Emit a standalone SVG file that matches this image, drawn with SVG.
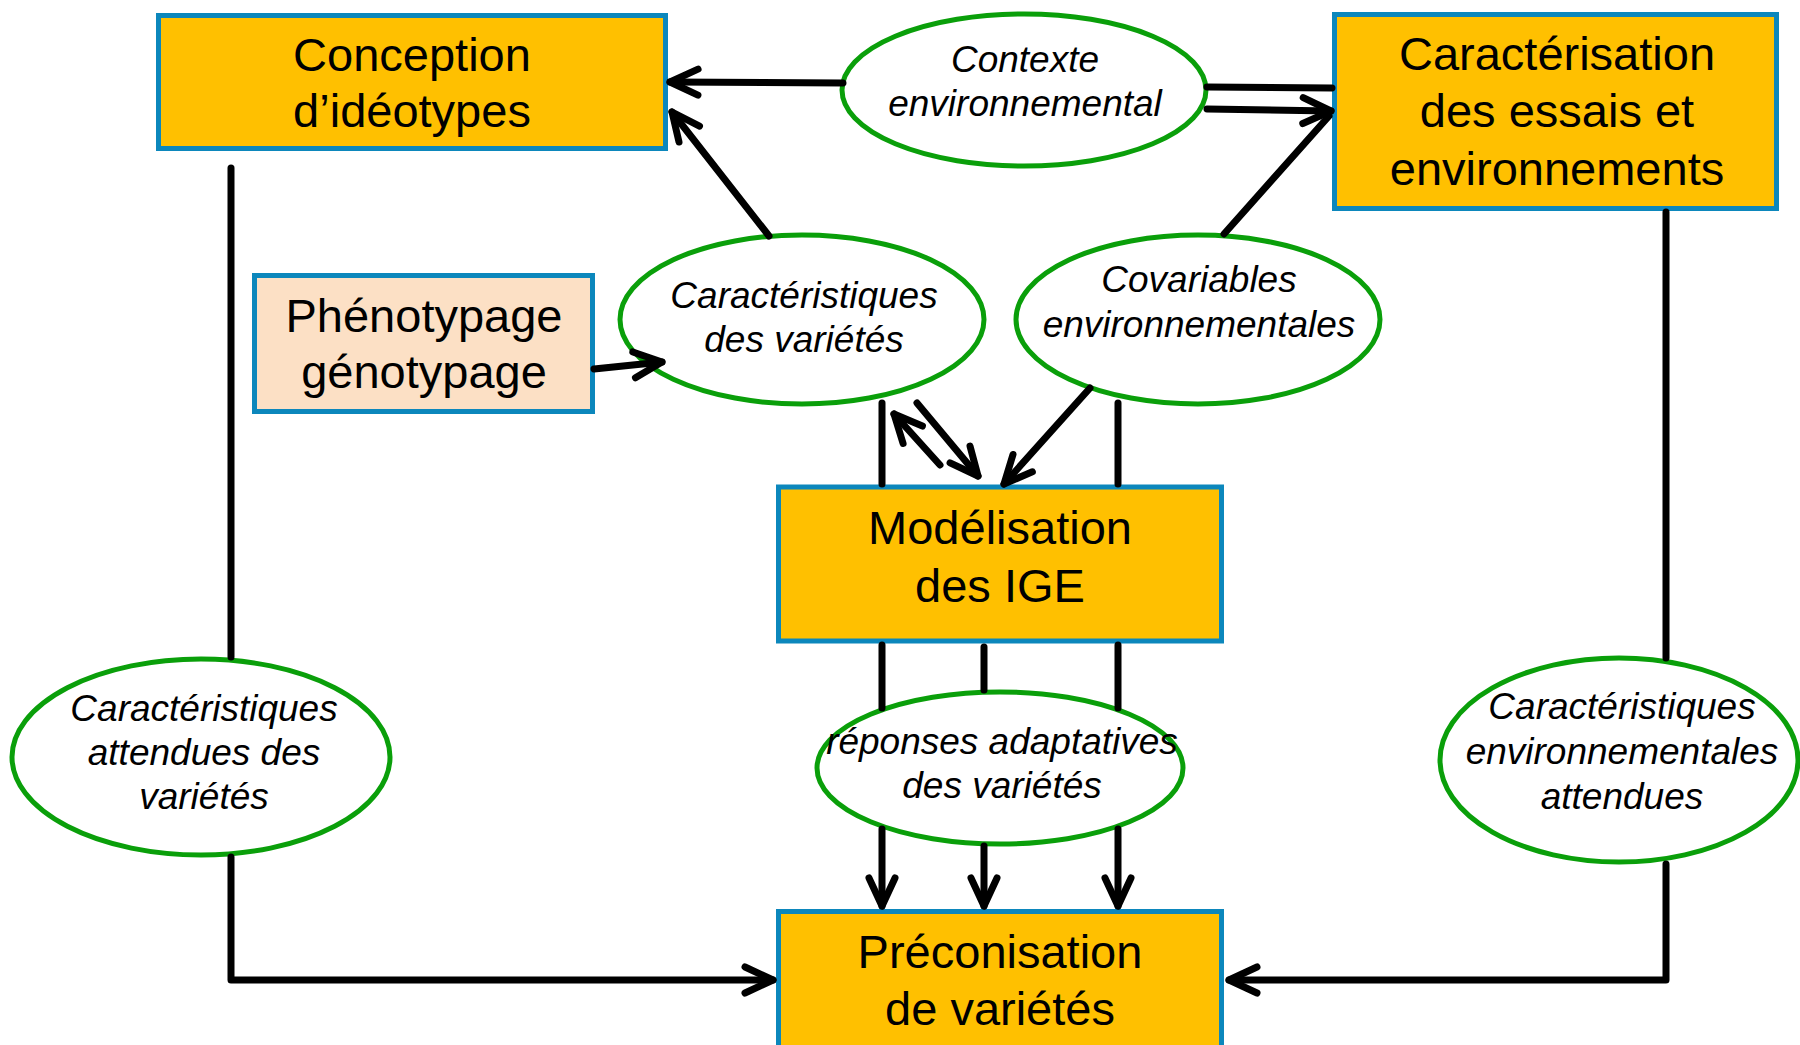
<svg xmlns="http://www.w3.org/2000/svg" width="1800" height="1045" viewBox="0 0 1800 1045">
<style>
.box{fill:#FFC000;stroke:#0C87BC;stroke-width:5}
.box2{fill:#FCE0C5;stroke:#0C87BC;stroke-width:5}
.ell{fill:#FFFFFF;stroke:#0A9F0A;stroke-width:5}
.bt{font-family:"Liberation Sans",Arial,sans-serif;font-size:47px;fill:#000;text-anchor:middle}
.et{font-family:"Liberation Sans",Arial,sans-serif;font-size:37px;font-style:italic;fill:#000;text-anchor:middle}
.c{fill:none;stroke:#000;stroke-width:7;stroke-linecap:round;stroke-linejoin:round}
.a{marker-end:url(#arr)}
</style>
<defs>
<marker id="arr" markerUnits="userSpaceOnUse" orient="auto" refX="0" refY="0" markerWidth="40" markerHeight="40" style="overflow:visible">
<path d="M -28 -13 L 0 0 L -28 13" fill="none" stroke="#000" stroke-width="7" stroke-linecap="round" stroke-linejoin="round"/>
</marker>
</defs>
<rect width="1800" height="1045" fill="#FFFFFF"/>
<g id="conception">
<rect class="box" x="158.5" y="15.5" width="507" height="133"/>
<text class="bt" x="412" y="71">Conception</text>
<text class="bt" x="412" y="127">d’idéotypes</text>
</g>
<g id="caracterisation">
<rect class="box" x="1334.5" y="14.5" width="442" height="194"/>
<text class="bt" x="1557" y="70">Caractérisation</text>
<text class="bt" x="1557" y="127">des essais et</text>
<text class="bt" x="1557" y="185">environnements</text>
</g>
<g id="phenotypage">
<rect class="box2" x="254.5" y="275.5" width="338" height="136"/>
<text class="bt" x="424" y="332">Phénotypage</text>
<text class="bt" x="424" y="388">génotypage</text>
</g>
<g id="modelisation">
<rect class="box" x="778.5" y="487" width="443" height="154"/>
<text class="bt" x="1000" y="544">Modélisation</text>
<text class="bt" x="1000" y="602">des IGE</text>
</g>
<g id="preconisation">
<rect class="box" x="778.5" y="911.5" width="443" height="200"/>
<text class="bt" x="1000" y="968">Préconisation</text>
<text class="bt" x="1000" y="1025">de variétés</text>
</g>
<g id="contexte">
<ellipse class="ell" cx="1024" cy="90" rx="182" ry="76"/>
<text class="et" x="1025" y="72">Contexte</text>
<text class="et" x="1025" y="116">environnemental</text>
</g>
<g id="carac-varietes">
<ellipse class="ell" cx="802" cy="319.5" rx="182" ry="84.5"/>
<text class="et" x="804" y="308">Caractéristiques</text>
<text class="et" x="804" y="352">des variétés</text>
</g>
<g id="covariables">
<ellipse class="ell" cx="1198" cy="319.5" rx="182" ry="84.5"/>
<text class="et" x="1199" y="292">Covariables</text>
<text class="et" x="1199" y="337">environnementales</text>
</g>
<g id="carac-attendues">
<ellipse class="ell" cx="201" cy="757" rx="189" ry="98"/>
<text class="et" x="204" y="721">Caractéristiques</text>
<text class="et" x="204" y="765">attendues des</text>
<text class="et" x="204" y="809">variétés</text>
</g>
<g id="reponses">
<ellipse class="ell" cx="1000" cy="768" rx="183" ry="76"/>
<text class="et" x="1002" y="754">réponses adaptatives</text>
<text class="et" x="1002" y="798">des variétés</text>
</g>
<g id="carac-env-attendues">
<ellipse class="ell" cx="1619" cy="760" rx="179" ry="102"/>
<text class="et" x="1622" y="719">Caractéristiques</text>
<text class="et" x="1622" y="764">environnementales</text>
<text class="et" x="1622" y="809">attendues</text>
</g>
<g id="connectors">
<line class="c a" x1="843" y1="83" x2="670" y2="82"/>
<line class="c a" x1="769" y1="236" x2="672" y2="112"/>
<line class="c a" x1="594" y1="369" x2="662" y2="362"/>
<line class="c" x1="1207" y1="87" x2="1332" y2="88"/>
<line class="c a" x1="1207" y1="109" x2="1331" y2="111"/>
<line class="c" x1="1224" y1="234" x2="1329" y2="116"/>
<line class="c" x1="231" y1="168" x2="231" y2="657"/>
<path class="c a" d="M231,857 V980 H773"/>
<line class="c" x1="1666" y1="212" x2="1666" y2="658"/>
<path class="c a" d="M1666,864 V980 H1229"/>
<line class="c" x1="882" y1="403" x2="882" y2="484"/>
<line class="c" x1="882" y1="645" x2="882" y2="708"/>
<line class="c a" x1="882" y1="829" x2="882" y2="906"/>
<line class="c" x1="1118" y1="403" x2="1118" y2="484"/>
<line class="c" x1="1118" y1="645" x2="1118" y2="708"/>
<line class="c a" x1="1118" y1="829" x2="1118" y2="906"/>
<line class="c" x1="984" y1="647" x2="984" y2="690"/>
<line class="c a" x1="984" y1="846" x2="984" y2="906"/>
<line class="c a" x1="917" y1="403" x2="978" y2="476"/>
<line class="c a" x1="940" y1="465" x2="894" y2="414"/>
<line class="c a" x1="1090" y1="388" x2="1004" y2="484"/>
</g>
</svg>
